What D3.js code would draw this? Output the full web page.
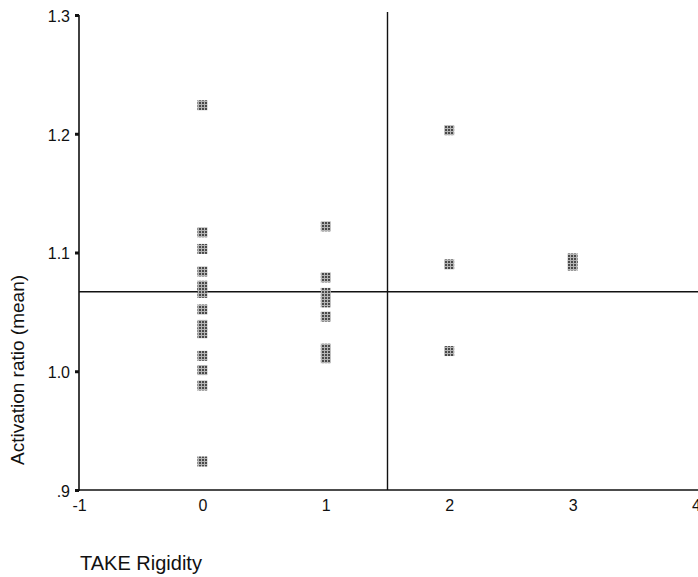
<!DOCTYPE html>
<meta charset="utf-8">
<script src="https://d3js.org/d3.v7.min.js"></script>
<style>
  body { margin: 0; background: #fff; }
  text { font-family: "Liberation Sans", Arial, sans-serif; fill: #111; }
  .tick text { font-size: 16px !important; font-family: "Liberation Sans", Arial, sans-serif !important; }
</style>
<div id="chart"></div>
<script>

// data: TAKE rigidity score vs mean activation ratio
var rigidity0 = [1.224, 1.117, 1.103, 1.084, 1.072, 1.066, 1.052, 1.039, 1.032, 1.013, 1.001, 0.988, 0.924];
var rigidity1 = [1.122, 1.079, 1.066, 1.058, 1.046, 1.019, 1.011];
var rigidity2 = [1.203, 1.090, 1.017];
var rigidity3 = [1.095, 1.089];

var xTicks = [-1, 0, 1, 2, 3, 4];
var yTicks = [0.9, 1.0, 1.1, 1.2, 1.3];
var yTickLabels = [".9", "1.0", "1.1", "1.2", "1.3"];

var meanRatio = 1.067;   // horizontal reference line
var splitRigidity = 1.5; // vertical reference line

var points = [];
[rigidity0, rigidity1, rigidity2, rigidity3].forEach(function(arr, i) {
  arr.forEach(function(v) { points.push({x: i, y: v}); });
});

var margin = {top: 15, right: 0, bottom: 87, left: 79},
    width = 698 - margin.left - margin.right,
    height = 577 - margin.top - margin.bottom;

var svg = d3.select("#chart")
  .append("svg")
    .attr("width", 698)
    .attr("height", 577);

// dotted grey fill of the markers
var defs = svg.append("defs");
var pat = defs.append("pattern")
    .attr("id", "dots")
    .attr("width", 3).attr("height", 3)
    .attr("patternUnits", "userSpaceOnUse");
pat.append("rect").attr("width", 3).attr("height", 3).attr("fill", "#b4b4b4");
pat.append("rect").attr("width", 2).attr("height", 2).attr("fill", "#4a4a4a");

var g = svg.append("g")
    .attr("transform", "translate(" + margin.left + "," + margin.top + ")");

var x = d3.scaleLinear().domain([-1, 4]).range([0, 617]);
var y = d3.scaleLinear().domain([0.9, 1.3]).range([height, 0]);

// y axis
var yAxis = g.append("g")
    .call(d3.axisLeft(y).tickValues(yTicks).tickSize(4)
      .tickFormat(function(d, i) { return yTickLabels[i]; }));
yAxis.select(".domain").attr("stroke", "#111").attr("stroke-width", 1.6)
    .attr("d", "M0," + (height + 1) + "V0");
yAxis.selectAll(".tick line").attr("stroke", "#111").attr("stroke-width", 3);
yAxis.selectAll(".tick text")
    .attr("x", -9)
    .attr("dy", "0.4em");

// x axis
var xAxis = g.append("g")
    .attr("transform", "translate(0," + height + ")")
    .call(d3.axisBottom(x).tickValues(xTicks).tickSize(0)
      .tickFormat(function(d) { return String(d); }));
xAxis.select(".domain").attr("stroke", "#111").attr("stroke-width", 1.6)
    .attr("d", "M0,0H" + width);
xAxis.selectAll(".tick text")
    .attr("y", 10);

// reference lines
g.append("line")
    .attr("x1", 0).attr("x2", width)
    .attr("y1", y(meanRatio)).attr("y2", y(meanRatio))
    .attr("stroke", "#111").attr("stroke-width", 1.4);
g.append("line")
    .attr("x1", x(splitRigidity)).attr("x2", x(splitRigidity))
    .attr("y1", -3).attr("y2", height)
    .attr("stroke", "#111").attr("stroke-width", 1.4);

// points
g.selectAll(".pt")
  .data(points)
  .enter()
  .append("rect")
    .attr("class", "pt")
    .attr("x", function(d) { return x(d.x) - 5; })
    .attr("y", function(d) { return y(d.y) - 5; })
    .attr("width", 10)
    .attr("height", 10)
    .attr("fill", "url(#dots)");

// axis titles
svg.append("text")
    .attr("transform", "translate(24,370) rotate(-90)")
    .attr("text-anchor", "middle")
    .style("font-size", "19px")
    .text("Activation ratio (mean)");

svg.append("text")
    .attr("x", 80)
    .attr("y", 570)
    .style("font-size", "20px")
    .text("TAKE Rigidity");

</script>
